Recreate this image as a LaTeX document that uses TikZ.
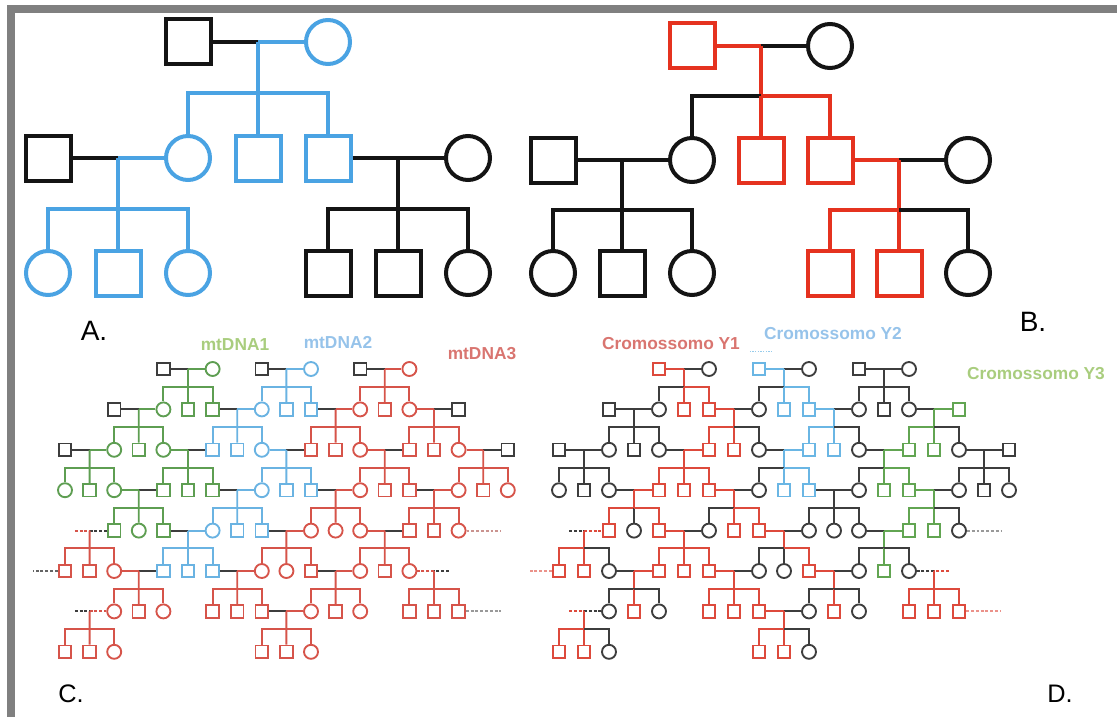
\documentclass[tikz,border=0pt]{standalone}
\usepackage{fontspec}
\setmainfont{Liberation Sans}
\usetikzlibrary{calc}

\definecolor{rimgray}{HTML}{808080}
\definecolor{ink}{HTML}{141414}
\definecolor{ablue}{HTML}{4AA3E3}
\definecolor{bred}{HTML}{E5321F}
\definecolor{gk}{HTML}{3D3D3D}
\definecolor{cg}{HTML}{5E9E52}
\definecolor{cb}{HTML}{6AB3E2}
\definecolor{cr}{HTML}{D6544A}
\definecolor{dr}{HTML}{DD4A3C}
\definecolor{db}{HTML}{6AB6E4}
\definecolor{dg}{HTML}{62A552}
\definecolor{tg}{HTML}{A9CD7E}
\definecolor{tb}{HTML}{96C3EA}
\definecolor{tr}{HTML}{D97570}

% 子女：竖线、横杠、三个孩子
\newcommand{\sibs}[7]{%
  \pgfmathtruncatemacro{\lc}{#3-1}\pgfmathtruncatemacro{\rc}{#3+1}\pgfmathtruncatemacro{\nr}{#2+1}%
  \coordinate (#1b#2-#3) at ($(#1j#2-#3)!.44!(#1\nr-#3)$);
  \draw[#4] (#1j#2-#3) -- (#1b#2-#3);
  \draw[#5] (#1b#2-#3) -| (#1\nr-\lc);
  \draw[#6] (#1b#2-#3) -- (#1\nr-#3);
  \draw[#7] (#1b#2-#3) -| (#1\nr-\rc);
}
% 夫妻：左半、右半、竖线、子女
\newcommand{\couple}[9]{%
  \pgfmathtruncatemacro{\lc}{#3-1}\pgfmathtruncatemacro{\rc}{#3+1}\pgfmathtruncatemacro{\nr}{#2+1}%
  \coordinate (#1j#2-#3) at (#1\nr-#3 |- #1#2-\lc);
  \draw[#4] (#1#2-\lc) -- (#1j#2-#3);
  \draw[#5] (#1j#2-#3) -- (#1#2-\rc);
  \sibs{#1}{#2}{#3}{#6}{#7}{#8}{#9}%
}
% 配偶在图外（虚线）
\newcommand{\offcouple}[8]{%
  \pgfmathtruncatemacro{\nr}{#2+1}%
  \coordinate (#1j#2-#3) at (#1\nr-#3 |- #1#2-#4);
  \coordinate (#1o#2-#3) at ($(#1j#2-#3)!-0.6!(#1#2-#4)$);
  \draw[#5, stub] (#1o#2-#3) -- (#1j#2-#3);
  \draw[#6, stub] (#1j#2-#3) -- (#1#2-#4);
  \sibs{#1}{#2}{#3}{#7}{#7}{#7}{#8}%
}

\begin{document}
\begin{tikzpicture}[x=0.75pt, y=-0.75pt,
    male/.style={draw=#1, rectangle, inner sep=0pt, minimum size=9.4pt},
    female/.style={draw=#1, circle, inner sep=0pt, minimum size=10.5pt},
    bigmale/.style={draw=#1, rectangle, inner sep=0pt, minimum size=33.75pt},
    bigfemale/.style={draw=#1, circle, inner sep=0pt, minimum size=33pt},
    stub/.style={dash pattern=on 2.2pt off 1.4pt},
    panel/.style={font=\fontsize{21}{24}\selectfont, inner sep=0pt},
    panelsm/.style={font=\fontsize{19}{22}\selectfont, inner sep=0pt},
    tagtxt/.style={font=\bfseries\fontsize{13}{15}\selectfont, inner sep=0pt}]
    \useasboundingbox (0,0) rectangle (1117,717);

    % 灰色边框
    \fill[rimgray] (7,5) rectangle (1117,13);
    \fill[rimgray] (7,5) rectangle (15,717);

    % A：线粒体DNA，三代
    \begin{scope}[line width=3pt]
    \node[bigmale=ink] (A1-2) at (188,42) {};
    \node[bigfemale=ablue] (A1-4) at (328,42) {};
    \node[bigmale=ink] (A2-0) at (48,158) {};
    \node[bigfemale=ablue] (A2-2) at (188,158) {};
    \node[bigmale=ablue] (A2-3) at (258,158) {};
    \node[bigmale=ablue] (A2-4) at (328,158) {};
    \node[bigfemale=ink] (A2-6) at (468,158) {};
    \node[bigfemale=ablue] (A3-0) at (48,273) {};
    \node[bigmale=ablue] (A3-1) at (118,273) {};
    \node[bigfemale=ablue] (A3-2) at (188,273) {};
    \node[bigmale=ink] (A3-4) at (328,273) {};
    \node[bigmale=ink] (A3-5) at (398,273) {};
    \node[bigfemale=ink] (A3-6) at (468,273) {};
    \couple{A}{1}{3}{ink}{ablue}{ablue}{ablue}{ablue}{ablue}
    \couple{A}{2}{1}{ink}{ablue}{ablue}{ablue}{ablue}{ablue}
    \couple{A}{2}{5}{ink}{ink}{ink}{ink}{ink}{ink}
    \end{scope}

    % B：Y染色体，三代
    \begin{scope}[line width=3pt]
    \node[bigmale=bred] (B1-2) at (692,46) {};
    \node[bigfemale=ink] (B1-4) at (830,46) {};
    \node[bigmale=ink] (B2-0) at (553,160) {};
    \node[bigfemale=ink] (B2-2) at (692,160) {};
    \node[bigmale=bred] (B2-3) at (761,160) {};
    \node[bigmale=bred] (B2-4) at (830,160) {};
    \node[bigfemale=ink] (B2-6) at (968,160) {};
    \node[bigfemale=ink] (B3-0) at (553,273) {};
    \node[bigmale=ink] (B3-1) at (622,273) {};
    \node[bigfemale=ink] (B3-2) at (692,273) {};
    \node[bigmale=bred] (B3-4) at (830,273) {};
    \node[bigmale=bred] (B3-5) at (899,273) {};
    \node[bigfemale=ink] (B3-6) at (968,273) {};
    \couple{B}{1}{3}{bred}{ink}{bred}{ink}{bred}{bred}
    \couple{B}{2}{1}{ink}{ink}{ink}{ink}{ink}{ink}
    \couple{B}{2}{5}{bred}{ink}{bred}{bred}{bred}{ink}
    \end{scope}

    % C：mtDNA 大家谱
    \begin{scope}[line width=1.4pt]
    \foreach \r/\k/\sx/\cl in {1/4/male/gk, 1/6/female/cg, 1/8/male/gk, 1/10/female/cb, 1/12/male/gk, 1/14/female/cr,
        2/2/male/gk, 2/4/female/cg, 2/5/male/cg, 2/6/male/cg, 2/8/female/cb, 2/9/male/cb, 2/10/male/cb, 2/12/female/cr, 2/13/male/cr, 2/14/female/cr, 2/16/male/gk,
        3/0/male/gk, 3/2/female/cg, 3/3/male/cg, 3/4/female/cg, 3/6/male/cb, 3/7/male/cb, 3/8/female/cb, 3/10/male/cr, 3/11/male/cr, 3/12/female/cr, 3/14/male/cr, 3/15/male/cr, 3/16/female/cr, 3/18/male/gk,
        4/0/female/cg, 4/1/male/cg, 4/2/female/cg, 4/4/male/cg, 4/5/male/cg, 4/6/male/cg, 4/8/female/cb, 4/9/male/cb, 4/10/male/cb, 4/12/female/cr, 4/13/male/cr, 4/14/male/cr, 4/16/female/cr, 4/17/male/cr, 4/18/female/cr,
        5/2/male/cg, 5/3/female/cg, 5/4/male/cg, 5/6/female/cb, 5/7/male/cb, 5/8/male/cb, 5/10/female/cr, 5/11/female/cr, 5/12/female/cr, 5/14/male/cr, 5/15/male/cr, 5/16/female/cr,
        6/0/male/cr, 6/1/male/cr, 6/2/female/cr, 6/4/male/cb, 6/5/male/cb, 6/6/male/cb, 6/8/female/cr, 6/9/female/cr, 6/10/male/cr, 6/12/female/cr, 6/13/male/cr, 6/14/female/cr,
        7/2/female/cr, 7/3/male/cr, 7/4/female/cr, 7/6/male/cr, 7/7/male/cr, 7/8/male/cr, 7/10/female/cr, 7/11/male/cr, 7/12/female/cr, 7/14/male/cr, 7/15/male/cr, 7/16/male/cr,
        8/0/male/cr, 8/1/male/cr, 8/2/female/cr, 8/8/male/cr, 8/9/male/cr, 8/10/female/cr}
      \node[\sx=\cl] (C\r-\k) at ({65+24.6*\k},{369+40.4*(\r-1)}) {};
    \couple{C}{1}{5}{gk}{cg}{cg}{cg}{cg}{cg}
    \couple{C}{1}{9}{gk}{cb}{cb}{cb}{cb}{cb}
    \couple{C}{1}{13}{gk}{cr}{cr}{cr}{cr}{cr}
    \couple{C}{2}{3}{gk}{cg}{cg}{cg}{cg}{cg}
    \couple{C}{2}{7}{gk}{cb}{cb}{cb}{cb}{cb}
    \couple{C}{2}{11}{gk}{cr}{cr}{cr}{cr}{cr}
    \couple{C}{2}{15}{cr}{gk}{cr}{cr}{cr}{cr}
    \couple{C}{3}{1}{gk}{cg}{cg}{cg}{cg}{cg}
    \couple{C}{3}{5}{cg}{gk}{cg}{cg}{cg}{cg}
    \couple{C}{3}{9}{cb}{gk}{cb}{cb}{cb}{cb}
    \couple{C}{3}{13}{cr}{gk}{cr}{cr}{cr}{cr}
    \couple{C}{3}{17}{cr}{gk}{cr}{cr}{cr}{cr}
    \couple{C}{4}{3}{cg}{gk}{cg}{cg}{cg}{cg}
    \couple{C}{4}{7}{gk}{cb}{cb}{cb}{cb}{cb}
    \couple{C}{4}{11}{gk}{cr}{cr}{cr}{cr}{cr}
    \couple{C}{4}{15}{gk}{cr}{cr}{cr}{cr}{cr}
    \couple{C}{5}{5}{gk}{cb}{cb}{cb}{cb}{cb}
    \couple{C}{5}{9}{gk}{cr}{cr}{cr}{cr}{cr}
    \couple{C}{5}{13}{cr}{gk}{cr}{cr}{cr}{cr}
    \couple{C}{6}{3}{cr}{gk}{cr}{cr}{cr}{cr}
    \couple{C}{6}{7}{gk}{cr}{cr}{cr}{cr}{cr}
    \couple{C}{6}{11}{gk}{cr}{cr}{cr}{cr}{cr}
    \couple{C}{7}{9}{gk}{cr}{cr}{cr}{cr}{cr}
    \offcouple{C}{5}{1}{2}{cr}{gk}{cr}{cr}
    \offcouple{C}{6}{15}{14}{gk}{cr}{cr}{cr}
    \offcouple{C}{7}{1}{2}{gk}{cr}{cr}{cr}
    % 图外的配偶
    \coordinate (Ce5) at ($(C5-16.east)+(34,0)$);
    \coordinate (Ce6) at ($(C6-0.west)+(-25,0)$);
    \coordinate (Ce7) at ($(C7-16.east)+(35,0)$);
    \draw[cr!60!gray!70, stub] (C5-16) -- (Ce5);
    \draw[gk!80, stub] (C6-0) -- (Ce6);
    \draw[gray!80, stub] (C7-16) -- (Ce7);
    \end{scope}

    % D：Y染色体 大家谱
    \begin{scope}[line width=1.4pt]
    \foreach \r/\k/\sx/\cl in {1/4/male/dr, 1/6/female/gk, 1/8/male/db, 1/10/female/gk, 1/12/male/gk, 1/14/female/gk,
        2/2/male/gk, 2/4/female/gk, 2/5/male/dr, 2/6/male/dr, 2/8/female/gk, 2/9/male/db, 2/10/male/db, 2/12/female/gk, 2/13/male/gk, 2/14/female/gk, 2/16/male/dg,
        3/0/male/gk, 3/2/female/gk, 3/3/male/gk, 3/4/female/gk, 3/6/male/dr, 3/7/male/dr, 3/8/female/gk, 3/10/male/db, 3/11/male/db, 3/12/female/gk, 3/14/male/dg, 3/15/male/dg, 3/16/female/gk, 3/18/male/gk,
        4/0/female/gk, 4/1/male/gk, 4/2/female/gk, 4/4/male/dr, 4/5/male/dr, 4/6/male/dr, 4/8/female/gk, 4/9/male/db, 4/10/male/db, 4/12/female/gk, 4/13/male/dg, 4/14/male/dg, 4/16/female/gk, 4/17/male/gk, 4/18/female/gk,
        5/2/male/dr, 5/3/female/gk, 5/4/male/dr, 5/6/female/gk, 5/7/male/dr, 5/8/male/dr, 5/10/female/gk, 5/11/female/gk, 5/12/female/gk, 5/14/male/dg, 5/15/male/dg, 5/16/female/gk,
        6/0/male/dr, 6/1/male/dr, 6/2/female/gk, 6/4/male/dr, 6/5/male/dr, 6/6/male/dr, 6/8/female/gk, 6/9/female/gk, 6/10/male/dr, 6/12/female/gk, 6/13/male/dg, 6/14/female/gk,
        7/2/female/gk, 7/3/male/dr, 7/4/female/gk, 7/6/male/dr, 7/7/male/dr, 7/8/male/dr, 7/10/female/gk, 7/11/male/dr, 7/12/female/gk, 7/14/male/dr, 7/15/male/dr, 7/16/male/dr,
        8/0/male/dr, 8/1/male/dr, 8/2/female/gk, 8/8/male/dr, 8/9/male/dr, 8/10/female/gk}
      \node[\sx=\cl] (D\r-\k) at ({559+25*\k},{369+40.4*(\r-1)}) {};
    \couple{D}{1}{5}{dr}{gk}{dr}{gk}{dr}{dr}
    \couple{D}{1}{9}{db}{gk}{db}{gk}{db}{db}
    \couple{D}{1}{13}{gk}{gk}{gk}{gk}{gk}{gk}
    \couple{D}{2}{3}{gk}{gk}{gk}{gk}{gk}{gk}
    \couple{D}{2}{7}{dr}{gk}{dr}{dr}{dr}{gk}
    \couple{D}{2}{11}{db}{gk}{db}{db}{db}{gk}
    \couple{D}{2}{15}{gk}{dg}{dg}{dg}{dg}{gk}
    \couple{D}{3}{1}{gk}{gk}{gk}{gk}{gk}{gk}
    \couple{D}{3}{5}{gk}{dr}{dr}{dr}{dr}{dr}
    \couple{D}{3}{9}{gk}{db}{db}{gk}{db}{db}
    \couple{D}{3}{13}{gk}{dg}{dg}{gk}{dg}{dg}
    \couple{D}{3}{17}{gk}{gk}{gk}{gk}{gk}{gk}
    \couple{D}{4}{3}{gk}{dr}{dr}{dr}{gk}{dr}
    \couple{D}{4}{7}{dr}{gk}{dr}{gk}{dr}{dr}
    \couple{D}{4}{11}{gk}{gk}{gk}{gk}{gk}{gk}
    \couple{D}{4}{15}{dg}{gk}{dg}{dg}{dg}{gk}
    \couple{D}{5}{5}{dr}{gk}{dr}{dr}{dr}{dr}
    \couple{D}{5}{9}{dr}{gk}{dr}{gk}{gk}{dr}
    \couple{D}{5}{13}{gk}{dg}{dg}{gk}{dg}{gk}
    \couple{D}{6}{3}{gk}{dr}{dr}{gk}{dr}{gk}
    \couple{D}{6}{7}{dr}{gk}{dr}{dr}{dr}{dr}
    \couple{D}{6}{11}{dr}{gk}{dr}{gk}{dr}{gk}
    \couple{D}{7}{9}{dr}{gk}{dr}{dr}{dr}{gk}
    \offcouple{D}{5}{1}{2}{gk}{dr}{dr}{gk}
    \offcouple{D}{6}{15}{14}{dr}{gk}{dr}{dr}
    \offcouple{D}{7}{1}{2}{dr}{gk}{dr}{gk}
    % 图外的配偶
    \coordinate (De5) at ($(D5-16.east)+(34,0)$);
    \coordinate (De6) at ($(D6-0.west)+(-23,0)$);
    \coordinate (De7) at ($(D7-16.east)+(35,0)$);
    \draw[gray!80, stub] (D5-16) -- (De5);
    \draw[dr!60, stub] (D6-0) -- (De6);
    \draw[dr!60, stub] (D7-16) -- (De7);
    \draw[db!70, line width=1pt, dash pattern=on 1pt off 1pt] ([xshift=-1.5pt,yshift=7.5pt]D1-8.north west) -- ([xshift=5pt,yshift=7.5pt]D1-8.north east);
    \end{scope}

    % 标签
    \node[panel] (la) at (94,331) {A.};
    \node[panel] (lb) at (1033,322) {B.};
    \node[panelsm] (lc) at (71,694) {C.};
    \node[panelsm] (ld) at (1060,694) {D.};
    \node[tagtxt, text=tg] (m1) at (235,345) {mtDNA1};
    \node[tagtxt, text=tb] (m2) at (338,343) {mtDNA2};
    \node[tagtxt, text=tr] (m3) at (482,354) {mtDNA3};
    \node[tagtxt, text=tr] (y1) at (671,344) {Cromossomo Y1};
    \node[tagtxt, text=tb] (y2) at (833,334) {Cromossomo Y2};
    \node[tagtxt, text=tg] (y3) at (1036,374) {Cromossomo Y3};
\end{tikzpicture}
\end{document}
